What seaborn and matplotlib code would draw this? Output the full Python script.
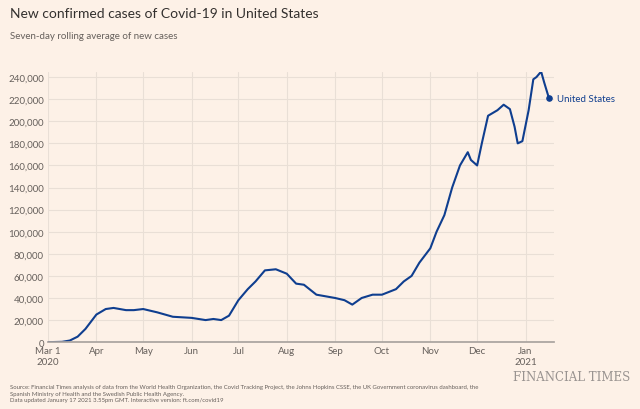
import pandas as pd
import matplotlib
matplotlib.use('Agg')
from matplotlib import pyplot as plt
import seaborn as sns

# Seven-day rolling average of new cases
dates = ['2020-03-01', '2020-03-10', '2020-03-15', '2020-03-20', '2020-03-25', '2020-04-01',
         '2020-04-07', '2020-04-12', '2020-04-20', '2020-04-25', '2020-05-01', '2020-05-10',
         '2020-05-20', '2020-06-01', '2020-06-10', '2020-06-15', '2020-06-20', '2020-06-25',
         '2020-07-01', '2020-07-07', '2020-07-12', '2020-07-18', '2020-07-25', '2020-08-01',
         '2020-08-07', '2020-08-12', '2020-08-20', '2020-08-28', '2020-09-01', '2020-09-07',
         '2020-09-12', '2020-09-18', '2020-09-25', '2020-10-01', '2020-10-10', '2020-10-15',
         '2020-10-20', '2020-10-25', '2020-11-01', '2020-11-05', '2020-11-10', '2020-11-15',
         '2020-11-20', '2020-11-25', '2020-11-27', '2020-12-01', '2020-12-04', '2020-12-08',
         '2020-12-14', '2020-12-18', '2020-12-22', '2020-12-25', '2020-12-27', '2020-12-30',
         '2021-01-03', '2021-01-06', '2021-01-08', '2021-01-11', '2021-01-13', '2021-01-16']
cases = [0, 300, 1500, 5000, 12000, 25000,
         30000, 31000, 29000, 29000, 30000, 27000,
         23000, 22000, 20000, 21000, 20000, 24000,
         38000, 48000, 55000, 65000, 66000, 62000,
         53000, 52000, 43000, 41000, 40000, 38000,
         34000, 40000, 43000, 43000, 48000, 55000,
         60000, 72000, 85000, 100000, 115000, 140000,
         160000, 172000, 165000, 160000, 180000, 205000,
         210000, 215000, 211000, 195000, 180000, 182000,
         210000, 238000, 240000, 245000, 235000, 221000]

df = pd.DataFrame({'date': pd.to_datetime(dates), 'cases': cases})

bg = '#fdf1e7'
blue = '#0f3e8f'
sns.set_theme(style='white')
plt.rcParams['font.family'] = ['Lato', 'DejaVu Sans']

fig = plt.figure(figsize=(6.4, 4.1), dpi=100, facecolor=bg)
ax = fig.add_axes([0.075, 0.163, 0.79, 0.66], facecolor=bg)
sns.lineplot(data=df, x='date', y='cases', color=blue, lw=1.5, ax=ax)
last = df.iloc[-1]
ax.scatter([last['date']], [last['cases']], color=blue, s=14, zorder=5)
ax.text(last['date'] + pd.Timedelta(days=5), last['cases'], 'United States',
        color=blue, fontsize=7, va='center')

ax.set_ylim(0, 245000)
ax.set_xlim(pd.Timestamp('2020-03-01'), pd.Timestamp('2021-01-19'))
ax.set_yticks(range(0, 240001, 20000))
ax.set_yticklabels([f'{v:,}' for v in range(0, 240001, 20000)])
ticks = pd.date_range('2020-03-01', '2021-01-01', freq='MS')
labels = ['Mar 1\n2020'] + [d.strftime('%b') for d in ticks[1:-1]] + ['Jan\n2021']
ax.set_xticks(ticks)
ax.set_xticklabels(labels)
ax.tick_params(labelsize=7, colors='#66605c', length=0, pad=3)
ax.grid(True, color='#e9dfd6', lw=0.8)
for s in ['top', 'right', 'left']:
    ax.spines[s].set_visible(False)
ax.spines['bottom'].set_color('#a9a39f')
ax.set_xlabel('')
ax.set_ylabel('')

fig.text(0.016, 0.955, 'New confirmed cases of Covid-19 in United States', fontsize=10, color='#33302e')
fig.text(0.016, 0.905, 'Seven-day rolling average of new cases', fontsize=7, color='#66605c')
fig.text(0.016, 0.02, 'Source: Financial Times analysis of data from the World Health Organization, the Covid Tracking Project, the Johns Hopkins CSSE, the UK Government coronavirus dashboard, the\n'
         'Spanish Ministry of Health and the Swedish Public Health Agency.\n'
         'Data updated January 17 2021 3.55pm GMT. Interactive version: ft.com/covid19',
         fontsize=4.3, color='#66605c', linespacing=1.3)
fig.text(0.985, 0.07, 'FINANCIAL TIMES', fontsize=8.5, color='#999390', family='DejaVu Serif', ha='right')

fig.savefig('out.png', dpi=100, facecolor=bg)
